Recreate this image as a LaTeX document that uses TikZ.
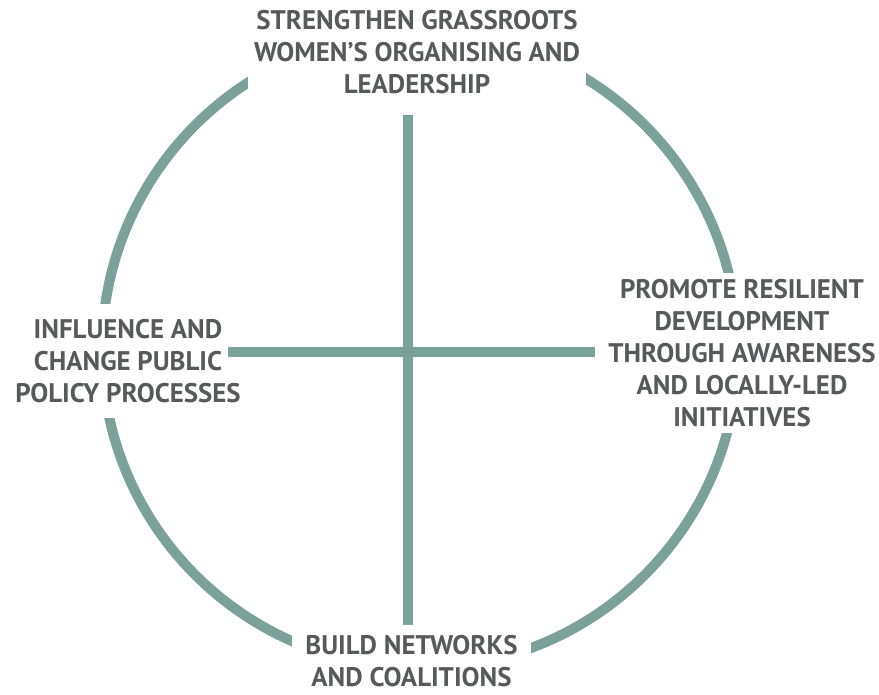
\documentclass[tikz,border=0pt]{standalone}
\usepackage{fontspec}
\setmainfont{PT Sans}
\definecolor{sage}{HTML}{7BA29A}
\definecolor{ink}{HTML}{58595B}
\begin{document}
\begin{tikzpicture}[x=0.02cm,y=-0.02cm]
\tikzstyle{goal}=[fill=white,align=center,text=ink,inner sep=0pt,font=\bfseries\fontsize{15.3}{18.2}\selectfont]
\tikzstyle{bar}=[draw=sage,line width=6pt]
\useasboundingbox (0,0) rectangle (879,695);
\draw[sage,line width=5.7pt] (420,350) circle[radius=6.36cm];
\path (417,52) node[goal,minimum width=6.76cm,minimum height=1.9cm](top){STRENGTHEN GRASSROOTS\\WOMEN’S ORGANISING AND\\LEADERSHIP};
\path (128,361) node[goal,minimum width=4.4cm,minimum height=2.3cm](left){INFLUENCE AND\\CHANGE PUBLIC\\POLICY PROCESSES};
\path (742,353) node[goal,minimum width=5.6cm,minimum height=3.2cm](right){PROMOTE RESILIENT\\DEVELOPMENT\\THROUGH AWARENESS\\AND LOCALLY-LED\\INITIATIVES};
\path (411.5,661.5) node[goal,minimum width=4.78cm,minimum height=1.32cm](bottom){BUILD NETWORKS\\AND COALITIONS};
\path (408,115) coordinate(n) (408,625) coordinate(s);
\path (228,352) coordinate(w) (595,352) coordinate(e);
\draw[bar] (n) -- (s);
\draw[bar] (w) -- (e);
\end{tikzpicture}
\end{document}
